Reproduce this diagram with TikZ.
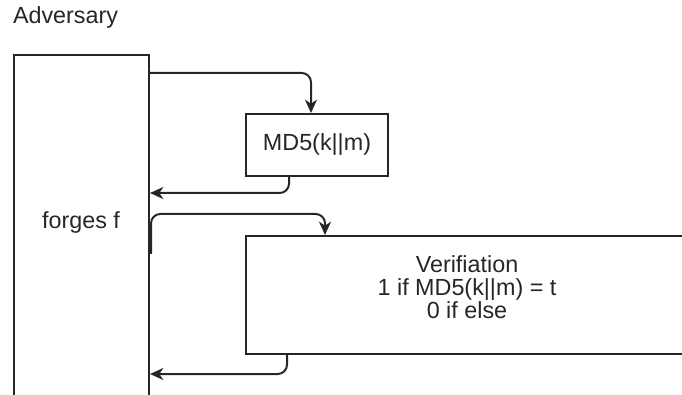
\documentclass[tikz,border=0pt]{standalone}
\usepackage{fontspec}
\setmainfont{Liberation Sans}
\usetikzlibrary{arrows.meta,calc}
\definecolor{inkgray}{HTML}{262626}
\newcommand{\pxu}{0.75pt}

\begin{document}
\begin{tikzpicture}[
  x=0.75pt,y=0.75pt,
  font=\fontsize{17.5}{17}\selectfont,
  line width=1.5pt,draw=inkgray,
  box/.style={draw=inkgray,rectangle,inner sep=0pt,text=inkgray,align=center},
  link/.style={draw=inkgray,line width=1.5pt,rounded corners=7pt,
    -{Stealth[length=10pt,width=9pt,inset=3pt]}}
]
\useasboundingbox (0,0) rectangle (682,-395);
\node[anchor=west,text=inkgray,inner xsep=0pt] (title) at (12,-17) {Adversary};
\node[box,minimum width=135*\pxu,minimum height=350*\pxu] (adv) at (81.5,-230) {};
\node[text=inkgray] (forge) at (81,-222) {forges f};
\node[box,minimum width=142*\pxu,minimum height=62*\pxu] (md5) at (317,-145) {MD5(k||m)};
\node[box,minimum width=444*\pxu,minimum height=118*\pxu] (ver) at (468,-295) {};
\node[text=inkgray,align=center] (vertext) at ($(ver.center)+(-1,8)$)
  {Verifiation\\1 if MD5(k||m) = t\\0 if else};
\draw[link] ($(adv.north east)+(0,-19)$) -| ($(md5.north)+(-6,0)$);
\draw[link] ($(md5.south)+(-28,0)$) |- ($(adv.north east)+(0,-139)$);
\draw[link] ($(adv.north east)+(1,-200)$) |- ($(ver.north west)+(80,21)$)
  -- ($(ver.north west)+(80,0)$);
\draw[link] ($(ver.south west)+(42,0)$) |- ($(adv.north east)+(0,-320)$);
\end{tikzpicture}
\end{document}
